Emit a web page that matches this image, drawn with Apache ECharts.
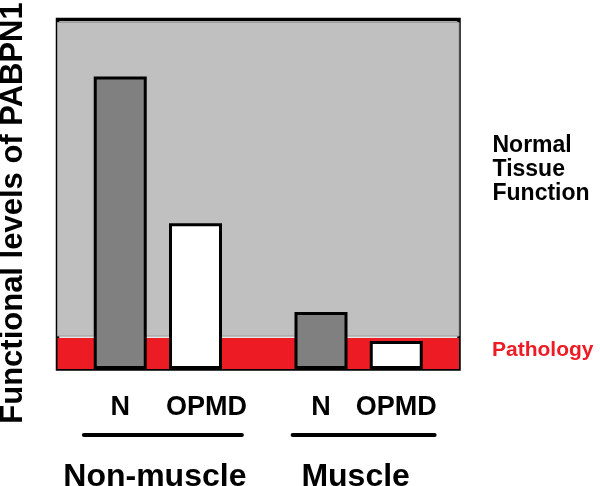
<!DOCTYPE html>
<html>
<head>
<meta charset="utf-8">
<script src="https://cdn.jsdelivr.net/npm/echarts@6/dist/echarts.min.js"></script>
<style>html,body{margin:0;padding:0;background:#fff}#c{width:600px;height:486px}</style>
</head>
<body>
<div id="c"></div>
<script>
// ---- data ----
const groups = ['Non-muscle', 'Muscle'];
const seriesNames = ['N', 'OPMD'];
const nValues = [293, 57];
const opmdValues = [146, 28];
const pathologyBand = [0, 31];
const normalBand = [33, 347];
const yAxisMax = 350;
const yTitle = 'Functional levels of PABPN1';
const normalLabel = 'Normal\nTissue\nFunction';
const pathologyLabel = 'Pathology';

const FONT = 'Liberation Sans, Arial, Helvetica, sans-serif';
const chart = echarts.init(document.getElementById('c'), null, {renderer: 'canvas'});

const barLabel = {
  show: true, position: 'bottom', distance: 25, formatter: '{a}',
  fontFamily: FONT, fontWeight: 'bold', fontSize: 27, color: '#000'
};

chart.setOption({
  animation: false,
  backgroundColor: '#fff',
  grid: {
    left: 57.5, right: 141, top: 19.5, bottom: 117,
    show: true, backgroundColor: '#e6e6e6', borderColor: '#000', borderWidth: 3.5,
    containLabel: false, outerBoundsMode: 'none'
  },
  xAxis: {
    type: 'category', data: groups,
    axisLine: {show: false}, axisTick: {show: false}, splitLine: {show: false},
    axisLabel: {
      margin: 64, interval: 0,
      formatter: (v, i) => '{sp|}{ln' + i + '|}\n{g|' + v + '}{sp2|}',
      rich: {
        sp: {width: 10, height: 4, lineHeight: 4},
        ln0: {width: 162, height: 4, lineHeight: 4, backgroundColor: '#000', borderRadius: 2},
        ln1: {width: 146, height: 4, lineHeight: 4, backgroundColor: '#000', borderRadius: 2},
        g: {fontFamily: FONT, fontWeight: 'bold', fontSize: 32, lineHeight: 80, color: '#000'},
        sp2: {width: 6, height: 1, lineHeight: 1}
      }
    }
  },
  yAxis: {
    type: 'value', min: 0, max: yAxisMax,
    axisLine: {show: false}, axisTick: {show: false}, axisLabel: {show: false}, splitLine: {show: false}
  },
  series: [
    {
      name: seriesNames[0], type: 'bar', data: nValues,
      barWidth: 53, barGap: '42%',
      itemStyle: {color: '#808080', borderColor: '#000', borderWidth: 3},
      label: barLabel,
      markArea: {
        silent: true,
        data: [
          [{yAxis: pathologyBand[0], itemStyle: {color: '#ed1c24'},
            label: {show: true, position: 'right', distance: 33, offset: [0, -3], formatter: pathologyLabel,
              fontFamily: FONT, fontWeight: 'bold', fontSize: 21, color: '#ed1c24'}},
           {yAxis: pathologyBand[1]}],
          [{yAxis: normalBand[0], itemStyle: {color: '#c0c0c0', borderColor: '#9c9c9c', borderWidth: 1},
            label: {show: true, position: 'right', distance: 33, offset: [0, -10], formatter: normalLabel,
              align: 'left', fontFamily: FONT, fontWeight: 'bold', fontSize: 23, lineHeight: 24, color: '#000'}},
           {yAxis: normalBand[1]}]
        ]
      }
    },
    {
      name: seriesNames[1], type: 'bar',
      data: opmdValues.map((v, i) => i === 0 ? {value: v, label: {offset: [11, 0]}} : v),
      barWidth: 53,
      itemStyle: {color: '#fff', borderColor: '#000', borderWidth: 3},
      label: barLabel
    }
  ],
  graphic: [{
    type: 'text', x: 13, y: 213, rotation: Math.PI / 2,
    style: {text: yTitle, font: 'bold 31px ' + FONT, fill: '#000', textAlign: 'center', textVerticalAlign: 'middle'}
  }]
});
</script>
</body>
</html>
